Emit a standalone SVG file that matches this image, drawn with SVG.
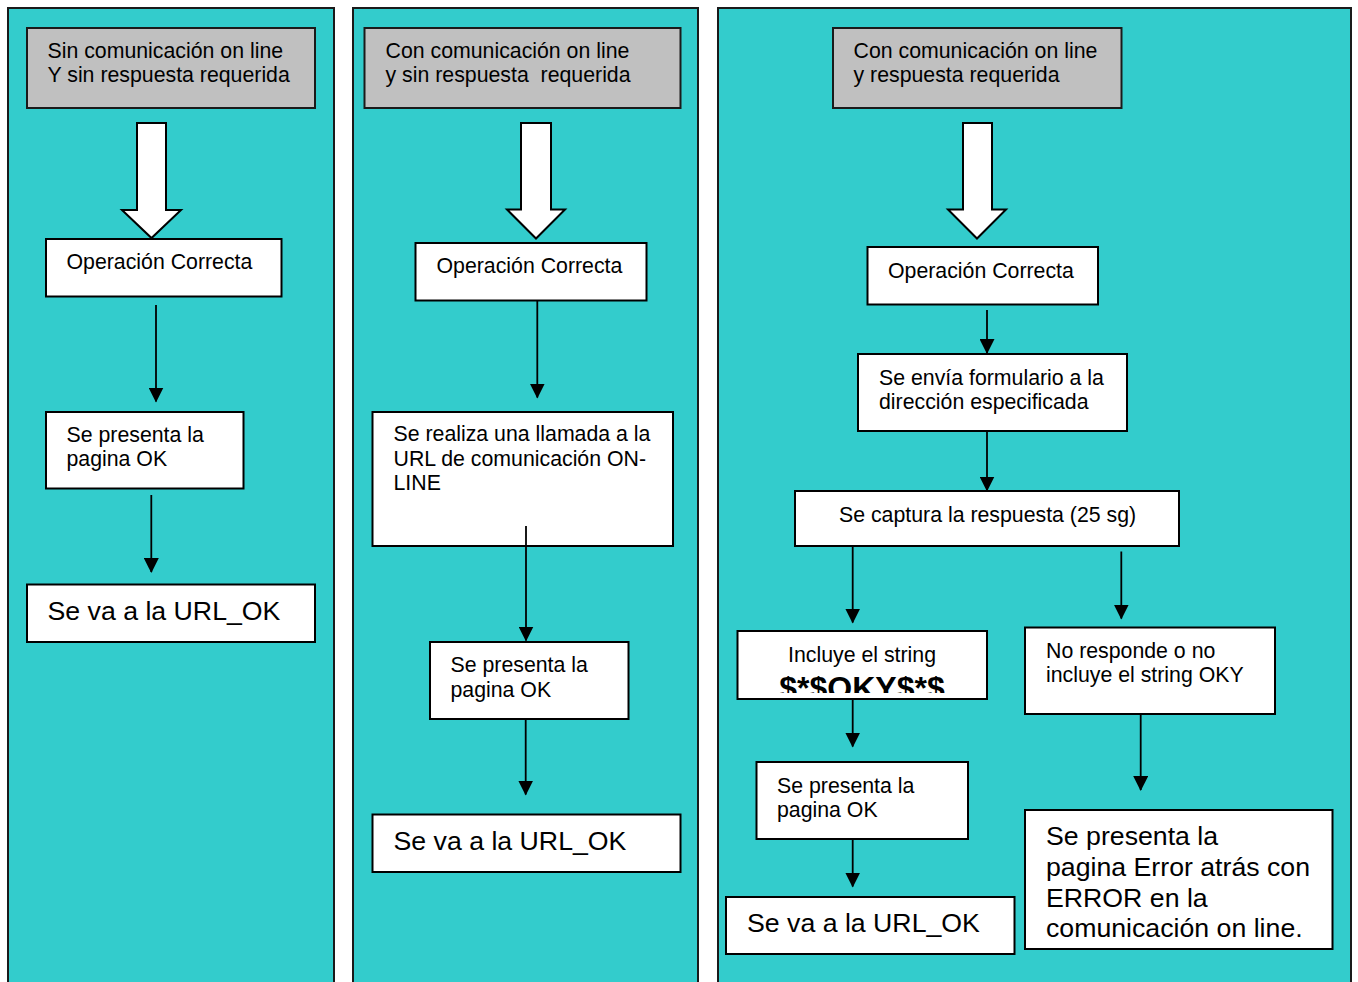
<svg xmlns="http://www.w3.org/2000/svg" width="1358" height="982" viewBox="0 0 1358 982">
<style>
.panel{fill:#33CCCC;stroke:#1a1a1a;stroke-width:2}
.hdr{fill:#C0C0C0;stroke:#1a1a1a;stroke-width:2}
.box{fill:#FFFFFF;stroke:#000;stroke-width:2}
.barrow{fill:#FFFFFF;stroke:#000;stroke-width:2;stroke-linejoin:miter}
.t{font-family:"Liberation Sans",Arial,sans-serif;font-size:21.3px;fill:#000}
.tl{font-family:"Liberation Sans",Arial,sans-serif;font-size:26.7px;fill:#000}
.tb{font-family:"Liberation Sans",Arial,sans-serif;font-size:32px;font-weight:bold;fill:#000}
.conn line{stroke:#000;stroke-width:1.8;marker-end:url(#ah)}
</style>
<defs>
<marker id="ah" viewBox="0 0 15 15" markerWidth="15" markerHeight="15" refX="14" refY="7.5" orient="auto" markerUnits="userSpaceOnUse">
<path d="M0,0 L15,7.5 L0,15 z" fill="#000"/>
</marker>
<clipPath id="clipOky"><rect x="738" y="632" width="248" height="61"/></clipPath>
</defs>
<rect width="1358" height="982" fill="#FFFFFF"/>
<g id="panels">
<rect class="panel" x="8" y="8" width="326" height="990"/>
<rect class="panel" x="353" y="8" width="345" height="990"/>
<rect class="panel" x="718" y="8" width="633" height="990"/>
</g>
<g id="p1-header"><rect class="hdr" x="27" y="28" width="288" height="80"/>
<text class="t" x="47.5" y="58">Sin comunicación on line</text>
<text class="t" x="47.5" y="82">Y sin respuesta requerida</text></g>
<g id="p1-bigarrow"><polygon class="barrow" points="137,123 166,123 166,210 181,210 151.5,238 122,210 137,210"/></g>
<g id="p1-operacion"><rect class="box" x="46" y="239" width="235.5" height="57.5"/>
<text class="t" x="66.5" y="269">Operación Correcta</text></g>
<g id="p1-pagina"><rect class="box" x="46" y="412" width="197.5" height="76.5"/>
<text class="t" x="66.5" y="442">Se presenta la</text>
<text class="t" x="66.5" y="466">pagina OK</text></g>
<g id="p1-url"><rect class="box" x="27" y="584.5" width="288" height="57.5"/>
<text class="tl" x="47.5" y="619.5">Se va a la URL_OK</text></g>

<g id="p2-header"><rect class="hdr" x="364.5" y="28" width="316" height="80"/>
<text class="t" x="385.5" y="58" xml:space="preserve">Con comunicación on line</text>
<text class="t" x="385.5" y="82" xml:space="preserve">y sin respuesta  requerida</text></g>
<g id="p2-bigarrow"><polygon class="barrow" points="521,123 551,123 551,209.5 565,209.5 536,238.5 507,209.5 521,209.5"/></g>
<g id="p2-operacion"><rect class="box" x="415.5" y="243" width="231" height="57.5"/>
<text class="t" x="436.5" y="273">Operación Correcta</text></g>
<g id="p2-llamada"><rect class="box" x="372.5" y="412" width="300.5" height="134"/>
<text class="t" x="393.5" y="441">Se realiza una llamada a la</text>
<text class="t" x="393.5" y="465.5">URL de comunicación ON-</text>
<text class="t" x="393.5" y="490">LINE</text></g>
<g id="p2-pagina"><rect class="box" x="430" y="642" width="198.5" height="77"/>
<text class="t" x="450.5" y="671.5">Se presenta la</text>
<text class="t" x="450.5" y="696.5">pagina OK</text></g>
<g id="p2-url"><rect class="box" x="372.5" y="814.5" width="308" height="57.5"/>
<text class="tl" x="393.5" y="850">Se va a la URL_OK</text></g>

<g id="p3-header"><rect class="hdr" x="833" y="28" width="288.5" height="80"/>
<text class="t" x="853.5" y="58">Con comunicación on line</text>
<text class="t" x="853.5" y="82">y respuesta requerida</text></g>
<g id="p3-bigarrow"><polygon class="barrow" points="963,123 992,123 992,209.5 1006,209.5 977,238.5 948,209.5 963,209.5"/></g>
<g id="p3-operacion"><rect class="box" x="867.5" y="247" width="230.5" height="57.5"/>
<text class="t" x="888" y="277.5">Operación Correcta</text></g>
<g id="p3-envia"><rect class="box" x="858" y="354" width="269" height="77"/>
<text class="t" x="879" y="385">Se envía formulario a la</text>
<text class="t" x="879" y="409">dirección especificada</text></g>
<g id="p3-captura"><rect class="box" x="795" y="491" width="384" height="55"/>
<text class="t" x="839" y="521.5">Se captura la respuesta (25 sg)</text></g>
<g id="p3-incluye"><rect class="box" x="737.5" y="631" width="249.5" height="68"/>
<text class="t" x="862" y="662" text-anchor="middle">Incluye el string</text>
<text class="tb" x="862" y="698.5" text-anchor="middle" clip-path="url(#clipOky)">$*$OKY$*$</text></g>
<g id="p3-noresponde"><rect class="box" x="1025" y="627.5" width="250" height="86.5"/>
<text class="t" x="1046" y="657.5">No responde o no</text>
<text class="t" x="1046" y="681.5">incluye el string OKY</text></g>
<g id="p3-pagina"><rect class="box" x="756.5" y="762" width="211.5" height="77"/>
<text class="t" x="777" y="792.5">Se presenta la</text>
<text class="t" x="777" y="817">pagina OK</text></g>
<g id="p3-url"><rect class="box" x="726" y="897" width="288.5" height="57"/>
<text class="tl" x="747" y="931.5">Se va a la URL_OK</text></g>
<g id="p3-error"><rect class="box" x="1025" y="810" width="307.5" height="139"/>
<text class="tl" x="1046" y="844.5">Se presenta la</text>
<text class="tl" x="1046" y="875.5">pagina Error atrás con</text>
<text class="tl" x="1046" y="906.5">ERROR en la</text>
<text class="tl" x="1046" y="936.5">comunicación on line.</text></g>

<g id="connectors" class="conn">
<line x1="156" y1="305" x2="156" y2="401.5"/>
<line x1="151.3" y1="495" x2="151.3" y2="572"/>
<line x1="537.3" y1="301" x2="537.3" y2="397.5"/>
<line x1="526" y1="526" x2="526" y2="640.5"/>
<line x1="525.7" y1="719" x2="525.7" y2="794.5"/>
<line x1="987" y1="310" x2="987" y2="353"/>
<line x1="987" y1="432" x2="987" y2="490.5"/>
<line x1="852.7" y1="546" x2="852.7" y2="622.5"/>
<line x1="1121.3" y1="551.5" x2="1121.3" y2="618.5"/>
<line x1="852.7" y1="699" x2="852.7" y2="746.5"/>
<line x1="852.7" y1="839" x2="852.7" y2="886.5"/>
<line x1="1140.7" y1="714" x2="1140.7" y2="790"/>
</g>
</svg>
